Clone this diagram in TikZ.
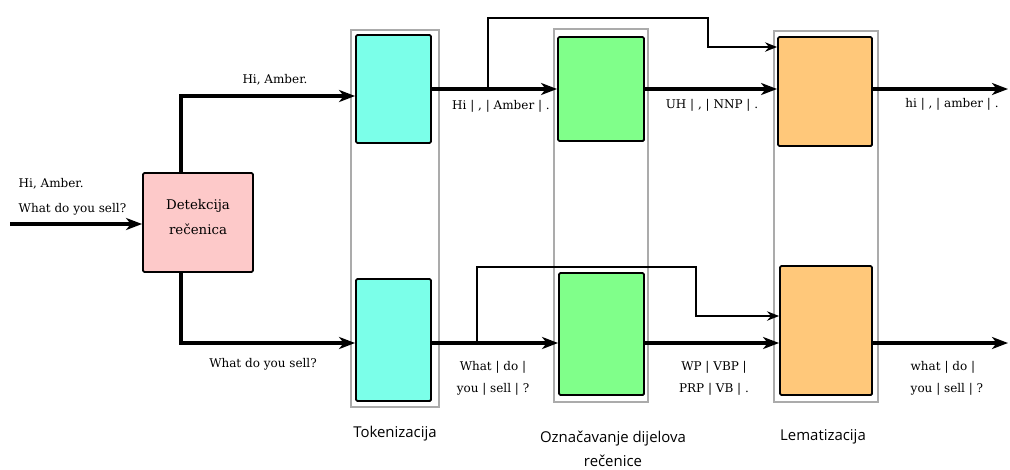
\documentclass[tikz,border=0pt]{standalone}
\usepackage{fontspec}
\setmainfont{DejaVu Serif}
\newfontfamily\capfont{Open Sans}
\usetikzlibrary{arrows.meta,fit}

\begin{document}
\begin{tikzpicture}[x=0.75pt, y=-0.75pt,
  stage/.style={draw=black!33, line width=1.6pt, inner sep=0pt},
  proc/.style={draw=black, line width=1.4pt, rounded corners=1pt, inner sep=0pt},
  flow/.style={line width=2.5pt, -{Stealth[length=12pt, width=9pt, inset=3.5pt]}},
  branch/.style={line width=1.8pt, -{Stealth[length=9pt, width=7pt, inset=3pt]}},
  lbl/.style={font=\fontsize{9}{16.5}\selectfont, align=center},
  stagename/.style={font=\capfont\fontsize{11.2}{18}\selectfont, align=center}]
\useasboundingbox (0,0) rectangle (1010,469);
\definecolor{tokcol}{HTML}{7BFFE9}
\definecolor{poscol}{HTML}{80FF8A}
\definecolor{lemcol}{HTML}{FFC87A}
\definecolor{detcol}{HTML}{FDC9C9}

% stage frames
\node[stage, fit={(351,30) (439,407)}] (fTok) {};
\node[stage, fit={(554,29) (648,402)}] (fPos) {};
\node[stage, fit={(774,31) (878,402)}] (fLem) {};

% boxes
\node[proc, fill=detcol, fit={(143,173) (253,272)}, lbl, font=\fontsize{10}{18.75}\selectfont] (det) {Detekcija\\rečenica};
\node[proc, fill=tokcol, fit={(356,35) (431,143)}] (tokA) {};
\node[proc, fill=tokcol, fit={(356,279) (431,401)}] (tokB) {};
\node[proc, fill=poscol, fit={(558,37) (644,141)}] (posA) {};
\node[proc, fill=poscol, fit={(559,273) (644,395)}] (posB) {};
\node[proc, fill=lemcol, fit={(778,37) (872,146)}] (lemA) {};
\node[proc, fill=lemcol, fit={(780,266) (872,395)}] (lemB) {};

\coordinate (in) at (10,224);
\coordinate (rowA) at (0,89);
\coordinate (rowB) at (0,343);
\coordinate (outA) at (1008,89);
\coordinate (outB) at (1008,343);
\coordinate (brA) at (488,89);
\coordinate (brB) at (477,343);

% main flow
\draw[flow] (in) -- (det.west |- in);
\draw[flow] ([xshift=-12.75pt]det.north) |- ([yshift=-5.25pt]tokA.west);
\draw[flow] ([xshift=-12.75pt]det.south) |- (tokB.west |- rowB);
\draw[flow] (tokA.east |- rowA) -- (posA.west |- rowA);
\draw[flow] (posA.east |- rowA) -- (lemA.west |- rowA);
\draw[flow] (lemA.east |- rowA) -- (outA);
\draw[flow] (tokB.east |- rowB) -- (posB.west |- rowB);
\draw[flow] (posB.east |- rowB) -- (lemB.west |- rowB);
\draw[flow] (lemB.east |- rowB) -- (outB);

% tokens bypass tagging
\draw[branch] (brA) |- (708,18) |- (lemA.west |- 0,47);
\draw[branch] (brB) |- (696,267) |- (lemB.west |- 0,316);

% labels
\node[lbl, align=left, anchor=west, font=\fontsize{9}{18.75}\selectfont] (inTxt) at (14,197) {Hi, Amber.\\What do you sell?};
\node[lbl] (sA) at (275,80) {Hi, Amber.};
\node[lbl] (sB) at (263,364) {What do you sell?};
\node[lbl] (tA) at (501,106) {Hi | , | Amber | .};
\node[lbl] (tB) at (493,378) {What | do |\\you | sell | ?};
\node[lbl] (pA) at (712,105) {UH | , | NNP | .};
\node[lbl] (pB) at (714,378) {WP | VBP |\\PRP | VB | .};
\node[lbl] (lA) at (952,104) {hi | , | amber | .};
\node[lbl, align=left, anchor=west] (lB) at (906,378) {what | do |\\you | sell | ?};

% stage names
\node[stagename] (cTok) at (395,434) {Tokenizacija};
\node[stagename] (cPos) at (613,449) {Označavanje dijelova\\rečenice};
\node[stagename] (cLem) at (823,437) {Lematizacija};
\end{tikzpicture}
\end{document}
